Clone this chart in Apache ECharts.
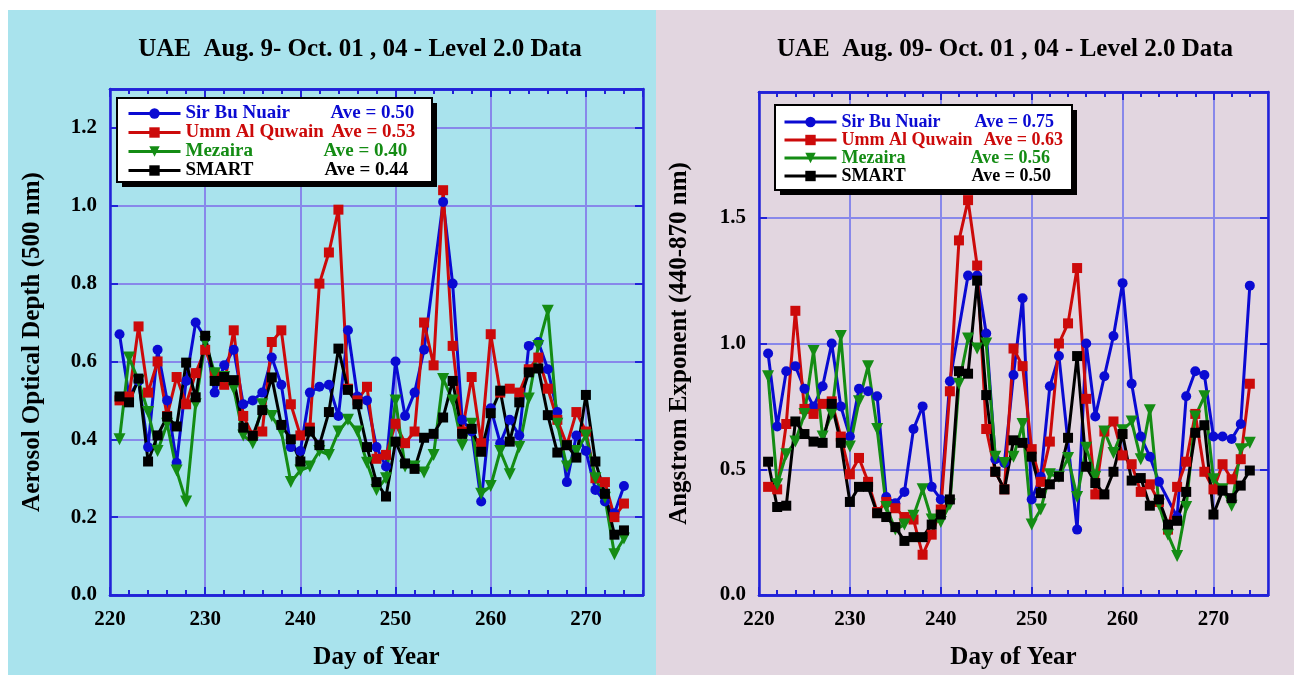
<!DOCTYPE html>
<html>
<head>
<meta charset="utf-8">
<script src="https://cdn.jsdelivr.net/npm/echarts@6/dist/echarts.min.js"></script>
<style>
  html, body { margin: 0; padding: 0; background: #ffffff; }
  #chart { width: 1294px; height: 675px; }
</style>
</head>
<body>
<div id="chart"></div>
<script>
// Day of year for each daily AERONET observation
const days = [221,222,223,224,225,226,227,228,229,230,231,232,233,234,235,236,237,238,239,240,
              241,242,243,244,245,246,247,248,249,250,251,252,253,254,255,256,257,258,259,260,
              261,262,263,264,265,266,267,268,269,270,271,272,273,274];

const stations = ['Sir Bu Nuair', 'Umm Al Quwain', 'Mezaira', 'SMART'];

// Aerosol optical depth at 500 nm
const aodSirBuNuair = [0.67,0.51,0.55,0.38,0.63,0.50,0.34,0.55,0.70,0.66,0.52,0.59,0.63,0.49,0.50,0.52,0.61,0.54,0.38,0.37,
                       0.52,0.535,0.54,0.46,0.68,0.51,0.50,0.38,0.33,0.60,0.46,0.52,0.63,null,1.01,0.80,0.45,0.42,0.24,0.48,
                       0.39,0.45,0.41,0.64,0.65,0.58,0.47,0.29,0.41,0.37,0.27,0.24,0.21,0.28];
const aodUmmAlQuwain = [0.50,0.51,0.69,0.52,0.60,0.46,0.56,0.49,0.57,0.63,0.57,0.54,0.68,0.46,0.41,0.42,0.65,0.68,0.49,0.41,
                        0.43,0.80,0.88,0.99,0.53,0.50,0.535,0.35,0.36,0.44,0.39,0.42,0.70,0.59,1.04,0.64,0.42,0.56,0.39,0.67,
                        0.52,0.53,0.52,0.58,0.61,0.53,0.45,0.385,0.47,0.42,0.30,0.29,0.20,0.235];
const aodMezaira = [0.40,0.61,0.55,0.47,0.37,0.44,0.32,0.24,0.49,0.65,0.57,0.56,0.53,0.41,0.39,0.49,0.46,0.42,0.29,0.32,
                    0.33,0.37,0.36,0.42,0.45,0.42,0.34,0.27,0.30,0.50,0.33,0.33,0.315,0.36,0.555,0.50,0.385,0.44,0.26,0.28,
                    0.37,0.31,0.38,0.505,0.64,0.73,0.44,0.33,0.37,0.41,0.30,0.25,0.105,0.145];
const aodSmart = [0.51,0.495,0.556,0.343,0.41,0.458,0.433,0.597,0.508,0.666,0.55,0.56,0.552,0.43,0.409,0.475,0.559,0.437,0.40,0.343,
                  0.42,0.385,0.47,0.633,0.527,0.49,0.38,0.29,0.253,0.394,0.338,0.324,0.404,0.414,0.456,0.55,0.414,0.427,0.368,0.467,
                  0.525,0.394,0.495,0.572,0.582,0.462,0.366,0.385,0.353,0.514,0.343,0.26,0.155,0.166];

// Angstrom exponent 440-870 nm
const aeSirBuNuair = [0.96,0.67,0.89,0.91,0.82,0.75,0.83,1.00,0.75,0.63,0.82,0.81,0.79,0.39,0.365,0.41,0.66,0.75,0.43,0.38,
                      0.85,null,1.27,1.27,1.04,0.54,0.525,0.875,1.18,0.38,0.47,0.83,0.95,null,0.26,1.00,0.71,0.87,1.03,1.24,
                      0.84,0.63,0.55,0.45,null,0.31,0.79,0.89,0.875,0.63,0.63,0.62,0.68,1.23];
const aeUmmAlQuwain = [0.43,0.42,0.68,1.13,0.74,0.72,0.76,0.77,0.63,0.48,0.545,0.45,0.33,0.37,0.345,0.31,0.30,0.16,0.24,0.34,
                       0.81,1.41,1.57,1.31,0.66,0.49,0.42,0.98,0.91,0.58,0.45,0.61,1.00,1.08,1.30,0.78,0.40,0.65,0.69,0.555,
                       0.52,0.41,0.44,0.37,0.26,0.43,0.53,0.72,0.49,0.42,0.52,0.46,0.54,0.84];
const aeMezaira = [0.87,0.44,0.56,0.61,0.72,0.97,0.63,0.72,1.03,0.59,0.77,0.91,0.66,0.35,0.26,0.28,0.315,0.42,0.30,0.29,
                   0.36,0.84,1.02,0.98,1.00,0.55,0.525,0.55,0.68,0.28,0.34,0.48,0.47,0.545,0.39,0.585,0.47,0.65,0.565,0.655,
                   0.69,0.54,0.735,0.36,0.24,0.155,0.35,0.71,0.79,0.46,0.42,0.355,0.58,0.605];
const aeSmart = [0.53,0.35,0.355,0.69,0.64,0.61,0.605,0.76,0.605,0.37,0.43,0.43,0.325,0.31,0.27,0.215,0.23,0.23,0.28,0.32,
                 0.38,0.89,0.88,1.25,0.795,0.49,0.42,0.615,0.605,0.55,0.405,0.44,0.47,0.625,0.95,0.51,0.445,0.40,0.49,0.64,
                 0.455,0.465,0.355,0.38,0.28,0.295,0.41,0.645,0.675,0.32,0.415,0.385,0.435,0.495];

const aodAverages = [0.50, 0.53, 0.40, 0.44];
const aeAverages = [0.75, 0.63, 0.56, 0.50];

const panelTitles = ['UAE  Aug. 9- Oct. 01 , 04 - Level 2.0 Data', 'UAE  Aug. 09- Oct. 01 , 04 - Level 2.0 Data'];
const yAxisNames = ['Aerosol Optical Depth (500 nm)', 'Angstrom Exponent (440-870 nm)'];
const xAxisName = 'Day of Year';

// ---- styling ----
const FONT = '"Liberation Serif", "Times New Roman", serif';
const colors = ['#0a0ad2', '#cc0a0a', '#148c14', '#000000'];
const symbols = [
  { symbol: 'circle', symbolSize: 10, symbolRotate: 0 },
  { symbol: 'rect', symbolSize: 10, symbolRotate: 0 },
  { symbol: 'triangle', symbolSize: 12, symbolRotate: 180 },
  { symbol: 'rect', symbolSize: 10, symbolRotate: 0 }
];
const AXIS_BLUE = '#2222d8';
const GRID_BLUE = '#8888ea';

const grids = [
  { left: 110, top: 89, width: 533, height: 508 },
  { left: 759, top: 92, width: 509, height: 508 }
];
const yRanges = [{ min: 0, max: 1.3, interval: 0.2 }, { min: 0, max: 2.0, interval: 0.5 }];

const labelStyle = { fontFamily: FONT, fontWeight: 'bold', fontSize: 21, color: '#000' };
const nameStyle = { fontFamily: FONT, fontWeight: 'bold', fontSize: 25, color: '#000' };

function xAxes(g) {
  const common = {
    gridIndex: g, type: 'value', min: 220, max: 276,
    axisLine: { show: true, lineStyle: { color: AXIS_BLUE, width: 2.5 } }
  };
  return [
    // bottom, labelled, major ticks + vertical grid lines
    Object.assign({}, common, {
      position: 'bottom', interval: 10,
      axisTick: { show: true, inside: true, length: 8, lineStyle: { color: AXIS_BLUE, width: 2 } },
      axisLabel: Object.assign({ margin: 14, showMaxLabel: false }, labelStyle),
      splitLine: { show: true, lineStyle: { color: GRID_BLUE, width: 2 } },
      name: xAxisName, nameLocation: 'middle', nameGap: 50, nameTextStyle: nameStyle
    }),
    // bottom minor ticks
    Object.assign({}, common, {
      position: 'bottom', interval: 2,
      axisTick: { show: true, inside: true, length: 5, lineStyle: { color: AXIS_BLUE, width: 2 } },
      axisLabel: { show: false }, splitLine: { show: false }
    }),
    // top major ticks
    Object.assign({}, common, {
      position: 'top', interval: 10,
      axisTick: { show: true, inside: true, length: 8, lineStyle: { color: AXIS_BLUE, width: 2 } },
      axisLabel: { show: false }, splitLine: { show: false }
    }),
    // top minor ticks
    Object.assign({}, common, {
      position: 'top', interval: 2,
      axisTick: { show: true, inside: true, length: 5, lineStyle: { color: AXIS_BLUE, width: 2 } },
      axisLabel: { show: false }, splitLine: { show: false }
    })
  ];
}

function yAxes(g) {
  const r = yRanges[g];
  const common = {
    gridIndex: g, type: 'value', min: r.min, max: r.max, interval: r.interval,
    axisLine: { show: true, lineStyle: { color: AXIS_BLUE, width: 2.5 } },
    axisTick: { show: true, inside: true, length: 8, lineStyle: { color: AXIS_BLUE, width: 2 } }
  };
  return [
    Object.assign({}, common, {
      position: 'left',
      axisLabel: Object.assign({ margin: 13, showMaxLabel: false, formatter: v => v.toFixed(1) }, labelStyle),
      splitLine: { show: true, lineStyle: { color: GRID_BLUE, width: 2 } },
      name: yAxisNames[g], nameLocation: 'middle', nameRotate: 90, nameGap: g === 0 ? 65 : 67,
      nameTextStyle: nameStyle
    }),
    Object.assign({}, common, {
      position: 'right', axisLabel: { show: false }, splitLine: { show: false }
    })
  ];
}

const xAxisList = [];
const yAxisList = [];
const xMainIndex = [];
const yMainIndex = [];
[0, 1].forEach(g => {
  xMainIndex.push(xAxisList.length);
  xAxisList.push(...xAxes(g));
  yMainIndex.push(yAxisList.length);
  yAxisList.push(...yAxes(g));
});

function makeSeries(values, i, g) {
  const data = [];
  days.forEach((d, k) => { if (values[k] !== null) data.push([d, values[k]]); });
  return Object.assign({
    type: 'line', name: stations[i],
    xAxisIndex: xMainIndex[g], yAxisIndex: yMainIndex[g],
    data: data, connectNulls: true,
    lineStyle: { color: colors[i], width: 3 },
    itemStyle: { color: colors[i] },
    emphasis: { disabled: true },
    animation: false
  }, symbols[i]);
}

const aodSeries = [aodSirBuNuair, aodUmmAlQuwain, aodMezaira, aodSmart];
const aeSeries = [aeSirBuNuair, aeUmmAlQuwain, aeMezaira, aeSmart];
const series = [];
aodSeries.forEach((v, i) => series.push(makeSeries(v, i, 0)));
aeSeries.forEach((v, i) => series.push(makeSeries(v, i, 1)));

// Legend boxes: white panel with black border and a solid drop shadow.
// nameW: width reserved for each station name before its "Ave = ..." text.
const ICON_W = 52, TEXT_GAP = 5;
const legendBoxes = [
  { x: 117, y: 98, w: 315, padTop: 6, padBottom: 2, padLeft: 10, fontSize: 19, lineH: 19,
    nameW: [145, 146, 138, 139], averages: aodAverages },
  { x: 775, y: 105, w: 297, padTop: 8, padBottom: 5, padLeft: 8, fontSize: 18, lineH: 18,
    nameW: [133, 142, 129, 130], averages: aeAverages }
];
legendBoxes.forEach(b => { b.h = b.padTop + b.padBottom + 4 * b.lineH; });

function makeLegend(b) {
  const tok = { fontFamily: FONT, fontWeight: 'bold', fontSize: b.fontSize, lineHeight: b.lineH };
  const rich = { a: Object.assign({}, tok) };
  b.nameW.forEach((w, i) => { rich['n' + i] = Object.assign({ width: w }, tok); });
  return {
    orient: 'vertical', left: b.x, top: b.y, z: 6,
    data: stations.map((s, i) => ({ name: s, textStyle: { color: colors[i] } })),
    formatter: name => {
      const i = stations.indexOf(name);
      return '{n' + i + '|' + name + '}{a|Ave = ' + b.averages[i].toFixed(2) + '}';
    },
    itemWidth: ICON_W, itemHeight: 13, itemGap: 0,
    padding: [b.padTop, 10, b.padBottom, b.padLeft],
    backgroundColor: 'transparent', borderWidth: 0,
    selectedMode: false,
    lineStyle: { width: 3 },
    textStyle: Object.assign({ rich: rich }, tok)
  };
}

const legendGraphics = [];
legendBoxes.forEach(b => {
  legendGraphics.push({ type: 'rect', z: 5, shape: { x: b.x + 5, y: b.y + 5, width: b.w, height: b.h },
                        style: { fill: '#000000' } });
  legendGraphics.push({ type: 'rect', z: 5, shape: { x: b.x, y: b.y, width: b.w, height: b.h },
                        style: { fill: '#ffffff', stroke: '#000000', lineWidth: 2 } });
});

const chart = echarts.init(document.getElementById('chart'), null, { renderer: 'canvas' });
chart.setOption({
  backgroundColor: '#ffffff',
  animation: false,
  graphic: [
    { type: 'rect', z: -100, shape: { x: 8, y: 10, width: 648, height: 665 }, style: { fill: '#a9e3ed' } },
    { type: 'rect', z: -100, shape: { x: 656, y: 10, width: 638, height: 665 }, style: { fill: '#e2d6e0' } },
    { type: 'text', z: 10, x: 360, y: 50,
      style: { text: panelTitles[0], fontFamily: FONT, fontWeight: 'bold', fontSize: 25, fill: '#000',
               textAlign: 'center', textVerticalAlign: 'middle' } },
    { type: 'text', z: 10, x: 1005, y: 50,
      style: { text: panelTitles[1], fontFamily: FONT, fontWeight: 'bold', fontSize: 25, fill: '#000',
               textAlign: 'center', textVerticalAlign: 'middle' } }
  ].concat(legendGraphics),
  grid: grids,
  xAxis: xAxisList,
  yAxis: yAxisList,
  legend: legendBoxes.map(makeLegend),
  series: series
});
</script>
</body>
</html>
